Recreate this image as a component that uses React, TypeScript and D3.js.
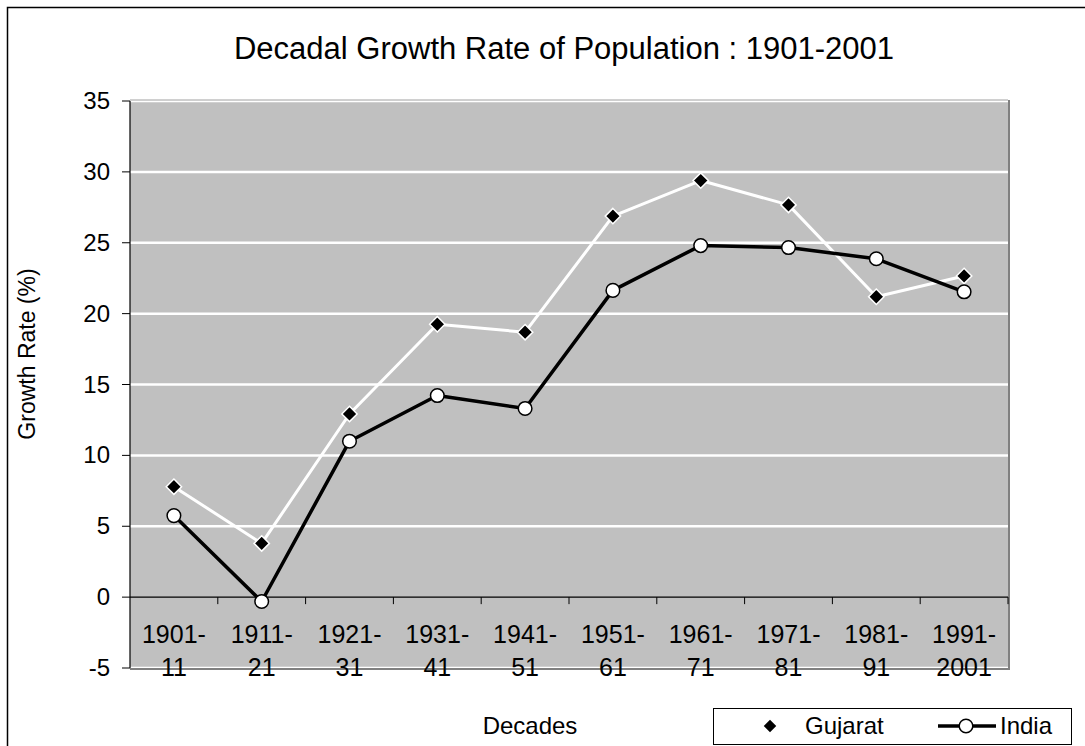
import React from "react";
import * as d3 from "d3";

// Decadal growth rate of population (%), 1901-2001
const decades = ["1901-11", "1911-21", "1921-31", "1931-41", "1941-51", "1951-61", "1961-71", "1971-81", "1981-91", "1991-2001"];
const gujarat = [7.79, 3.79, 12.92, 19.25, 18.69, 26.88, 29.39, 27.67, 21.19, 22.66];
const india = [5.75, -0.31, 11.0, 14.22, 13.31, 21.64, 24.8, 24.66, 23.87, 21.54];
const yTicks = [-5, 0, 5, 10, 15, 20, 25, 30, 35];

const W = 1085;
const H = 746;
const plot = { left: 130, right: 1008, top: 101, bottom: 668 };
const FONT = "'Liberation Sans', Arial, Helvetica, sans-serif";

export default function App() {
  const x = d3.scaleBand<string>().domain(decades).range([plot.left, plot.right]).padding(0);
  const y = d3.scaleLinear().domain([-5, 35]).range([plot.bottom, plot.top]);
  const cx = (d: string) => (x(d) as number) + x.bandwidth() / 2;

  const line = d3
    .line<number>()
    .x((_, i) => cx(decades[i]))
    .y((v) => y(v));

  const diamond = d3.symbol().type(d3.symbolDiamond2).size(150)() as string;
  const legendDiamond = d3.symbol().type(d3.symbolDiamond2).size(100)() as string;
  const y0 = y(0);

  return (
    <div style={{ position: "fixed", left: 0, top: 0, width: W, height: H, background: "#fff" }}>
      <svg width={W} height={H} style={{ display: "block", fontFamily: FONT }}>
        <rect x={0} y={0} width={W} height={H} fill="#fff" />
        {/* chart frame */}
        <rect x={7.5} y={7.5} width={W + 10} height={H + 10} fill="none" stroke="#000" strokeWidth={1.5} />

        <text x={564} y={59} textAnchor="middle" fontSize={31} fill="#000">
          Decadal Growth Rate of Population  : 1901-2001
        </text>

        {/* plot area */}
        <rect x={plot.left} y={plot.top} width={plot.right - plot.left} height={plot.bottom - plot.top} fill="#c0c0c0" />
        {yTicks
          .filter((t) => t !== 0)
          .map((t) => (
            <line key={t} x1={plot.left} x2={plot.right} y1={y(t)} y2={y(t)} stroke="#fff" strokeWidth={2.5} />
          ))}
        <line x1={plot.left} x2={plot.right} y1={plot.top - 1} y2={plot.top - 1} stroke="#a0a0a0" strokeWidth={1} />
        <line x1={plot.right + 1} x2={plot.right + 1} y1={plot.top - 1} y2={plot.bottom + 2} stroke="#808080" strokeWidth={2} />
        <line x1={plot.left} x2={plot.right + 2} y1={plot.bottom + 1} y2={plot.bottom + 1} stroke="#808080" strokeWidth={2} />

        {/* y axis */}
        <line x1={plot.left} x2={plot.left} y1={plot.top} y2={plot.bottom} stroke="#000" strokeWidth={1.2} />
        {yTicks.map((t) => (
          <g key={t}>
            <line x1={plot.left - 8} x2={plot.left} y1={y(t)} y2={y(t)} stroke="#000" strokeWidth={1} />
            <text x={110} y={y(t) + 8} textAnchor="end" fontSize={24} fill="#000">
              {t}
            </text>
          </g>
        ))}

        {/* x axis at zero */}
        <line x1={plot.left} x2={plot.right} y1={y0} y2={y0} stroke="#000" strokeWidth={1.2} />
        {decades.map((d) => (
          <line key={d} x1={(x(d) as number) + x.bandwidth()} x2={(x(d) as number) + x.bandwidth()} y1={y0} y2={y0 + 7} stroke="#000" strokeWidth={1} />
        ))}
        {decades.map((d) => {
          const [a, b] = d.split("-");
          return (
            <text key={d} x={cx(d)} textAnchor="middle" fontSize={25} fill="#000">
              <tspan x={cx(d)} y={643}>
                {a}-
              </tspan>
              <tspan x={cx(d)} y={676}>
                {b}
              </tspan>
            </text>
          );
        })}

        {/* series */}
        <path d={line(gujarat) as string} fill="none" stroke="#fff" strokeWidth={3} strokeLinejoin="round" />
        <path d={line(india) as string} fill="none" stroke="#000" strokeWidth={3.5} strokeLinejoin="round" />
        {gujarat.map((v, i) => (
          <path key={"g" + i} d={diamond} transform={`translate(${cx(decades[i])},${y(v)})`} fill="#000" stroke="#fff" strokeWidth={1.5} />
        ))}
        {india.map((v, i) => (
          <circle key={"i" + i} cx={cx(decades[i])} cy={y(v)} r={6.8} fill="#fff" stroke="#000" strokeWidth={1.5} />
        ))}

        {/* axis titles */}
        <text transform="translate(35,354) rotate(-90)" textAnchor="middle" fontSize={23} fill="#000">
          Growth Rate (%)
        </text>
        <text x={530} y={734} textAnchor="middle" fontSize={24} fill="#000">
          Decades
        </text>

        {/* legend */}
        <rect x={713.5} y={708.5} width={358} height={36} fill="#fff" stroke="#000" strokeWidth={1} />
        <path d={legendDiamond} transform="translate(770,726)" fill="#000" />
        <text x={805} y={734} fontSize={24} fill="#000">
          Gujarat
        </text>
        <line x1={938} x2={996} y1={726} y2={726} stroke="#000" strokeWidth={3.5} />
        <circle cx={966} cy={726} r={6.8} fill="#fff" stroke="#000" strokeWidth={1.5} />
        <text x={1000} y={734} fontSize={24} fill="#000">
          India
        </text>
      </svg>
    </div>
  );
}
